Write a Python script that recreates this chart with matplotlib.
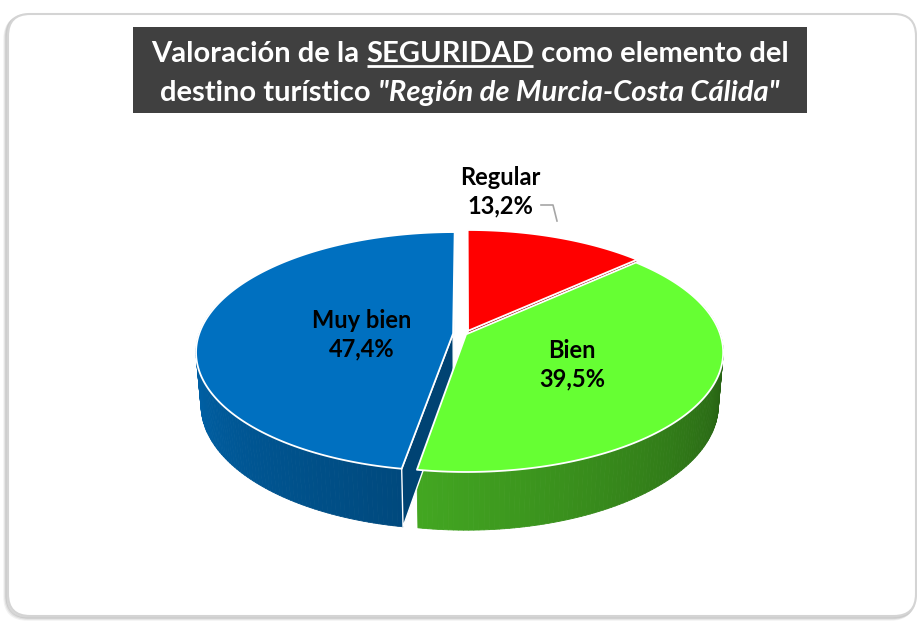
import numpy as np
import matplotlib
matplotlib.use('Agg')
import matplotlib.pyplot as plt
from matplotlib.patches import Polygon, FancyBboxPatch, Rectangle
from matplotlib.colors import to_rgb

# ---------------- data ----------------
categories = ['Regular', 'Bien', 'Muy bien']
values = [13.2, 39.5, 47.4]
pct_labels = ['13,2%', '39,5%', '47,4%']
colors = ['#FF0000', '#66FF33', '#0070C0']
explode = [0.03, 0.005, 0.047]
title_line1 = ['Valoración de la ', 'SEGURIDAD', ' como elemento del']
title_line2 = ['destino turístico ', '"Región de Murcia-Costa Cálida"']

FONT = 'Lato'
W, H = 917, 624
fig = plt.figure(figsize=(W / 100, H / 100), dpi=100)
ax = fig.add_axes([0, 0, 1, 1])
ax.set_xlim(0, W)
ax.set_ylim(H, 0)
ax.axis('off')

# ---------------- frame ----------------
for i, a in enumerate([0.05, 0.07, 0.09]):
    off = 3 - i
    ax.add_patch(FancyBboxPatch((8 - off, 14 + off), 908, 602,
                                boxstyle='round,pad=0,rounding_size=22',
                                fc='none', ec=(0, 0, 0, a), lw=2.5, zorder=0))
ax.add_patch(FancyBboxPatch((8, 14), 908, 602, boxstyle='round,pad=0,rounding_size=22',
                            fc='white', ec='#D4D4D4', lw=1.5, zorder=1))

# ---------------- 3D pie ----------------
cx, cy = 465, 334
S = 254
tilt = np.deg2rad(27.4)
Dcam = 5.9
thick = 0.235
cam = np.array([0.0, Dcam * np.sin(tilt), Dcam * np.cos(tilt)])


def proj(X, Y, Z):
    X = np.asarray(X, float); Y = np.asarray(Y, float); Z = np.asarray(Z, float)
    v = Y * np.cos(tilt) - Z * np.sin(tilt)
    w = Y * np.sin(tilt) + Z * np.cos(tilt)
    k = Dcam / (Dcam - w)
    return np.column_stack([cx + S * X * k, cy - S * v * k]), w


def shade(c, f):
    r, g, b = to_rgb(c)
    return (r * f, g * f, b * f)


total = sum(values)
faces = []   # (depth, poly, color, edgecolor, lw)
tops = []
cum = 0.0
for val, col, e in zip(values, colors, explode):
    th0 = 90 - cum / total * 360
    th1 = th0 - val / total * 360
    cum += val
    m = np.deg2rad((th0 + th1) / 2)
    ox, oz = e * np.cos(m), -e * np.sin(m)
    th = np.deg2rad(np.linspace(th0, th1, max(int(abs(th1 - th0)), 2) + 1))
    # top face
    Xs = np.concatenate([[ox], ox + np.cos(th)])
    Zs = np.concatenate([[oz], oz - np.sin(th)])
    pts, _ = proj(Xs, np.zeros_like(Xs), Zs)
    tops.append((pts, col))
    # outer walls
    for ta, tb in zip(th[:-1], th[1:]):
        tm = (ta + tb) / 2
        if np.sin(tm) > 0.25:
            continue
        X4 = np.array([np.cos(ta), np.cos(tb), np.cos(tb), np.cos(ta)]) + ox
        Z4 = -np.array([np.sin(ta), np.sin(tb), np.sin(tb), np.sin(ta)]) + oz
        Y4 = np.array([0, 0, -thick, -thick])
        p4, w4 = proj(X4, Y4, Z4)
        tdeg = np.rad2deg(np.arctan2(np.sin(tm), np.cos(tm)))
        if tdeg > 0:
            tdeg = -180 if tdeg > 90 else 0
        f = 0.9 - (tdeg + 180) / 180 * 0.55
        c = shade(col, f)
        faces.append((w4.mean() - 0.5, p4, c, c, 0.6))
    # cut faces
    for tc, sgn in [(np.deg2rad(th0), 1), (np.deg2rad(th1), -1)]:
        n = sgn * np.array([-np.sin(tc), 0, -np.cos(tc)])
        Pm = np.array([ox + 0.5 * np.cos(tc), -thick / 2, oz - 0.5 * np.sin(tc)])
        if np.dot(n, cam - Pm) <= 0:
            continue
        X4 = np.array([ox, ox + np.cos(tc), ox + np.cos(tc), ox])
        Z4 = np.array([oz, oz - np.sin(tc), oz - np.sin(tc), oz])
        Y4 = np.array([0, 0, -thick, -thick])
        p4, w4 = proj(X4, Y4, Z4)
        faces.append((w4.mean(), p4, shade(col, 0.6), 'white', 1.0))

faces.sort(key=lambda t: t[0])
for d, p, c, ec, lw in faces:
    ax.add_patch(Polygon(p, closed=True, fc=c, ec=ec, lw=lw, zorder=3,
                         joinstyle='round'))
for p, c in tops:
    ax.add_patch(Polygon(p, closed=True, fc=c, ec='white', lw=1.3, zorder=4,
                         joinstyle='round'))

# ---------------- data labels ----------------
lab_pos = {'Regular': (500, 192), 'Bien': (572, 365), 'Muy bien': (362, 335)}
for cat, pl in zip(categories, pct_labels):
    x, y = lab_pos[cat]
    ax.text(x, y, f'{cat}\n{pl}', ha='center', va='center', fontsize=17,
            fontweight='bold', family=FONT, color='black', zorder=6,
            linespacing=1.3)
ax.plot([541, 553, 557], [205, 205, 221], color='#A6A6A6', lw=1.2, zorder=5)

# ---------------- title ----------------
ax.add_patch(Rectangle((133, 27), 674, 86, fc='#404040', ec='none', zorder=5))
fig.canvas.draw()
renderer = fig.canvas.get_renderer()


def draw_line(segs, styles, ybase, xc=470, fs=21):
    texts = []
    for s, st in zip(segs, styles):
        t = ax.text(0, ybase, s, fontsize=fs, fontweight='bold', family=FONT,
                    style='italic' if st == 'i' else 'normal', color='white',
                    va='baseline', ha='left', zorder=6)
        texts.append(t)
    widths = [t.get_window_extent(renderer).width for t in texts]
    x = xc - sum(widths) / 2
    for t, w, st in zip(texts, widths, styles):
        t.set_x(x)
        if st == 'u':
            ax.plot([x + 1, x + w - 1], [ybase + 4, ybase + 4], color='white',
                    lw=2, zorder=6, solid_capstyle='butt')
        x += w


draw_line(title_line1, ['n', 'u', 'n'], 62)
draw_line(title_line2, ['n', 'i'], 101)

fig.savefig('out.png', dpi=100)
